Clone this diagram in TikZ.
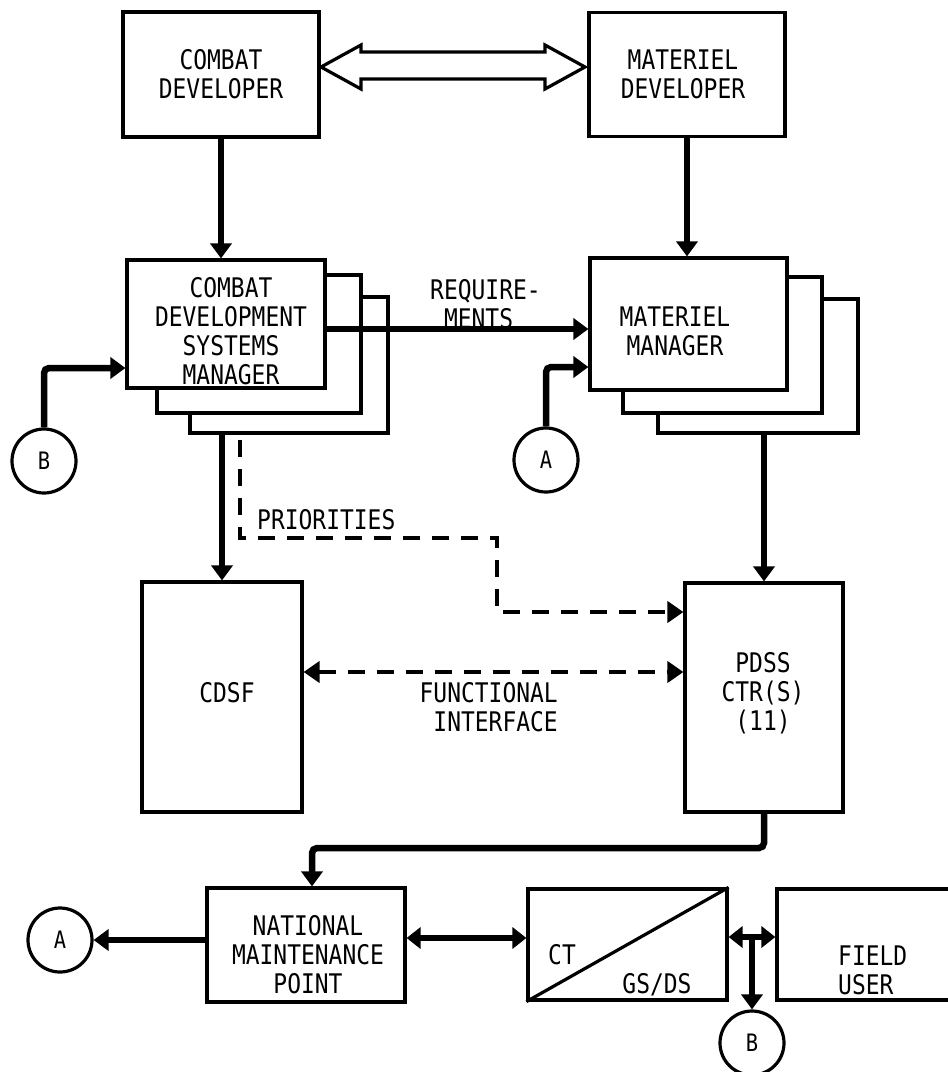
\documentclass[tikz,border=0pt]{standalone}
\usepackage{fontspec}
\setmainfont{DejaVu Sans Mono}[FakeStretch=0.85]
\usetikzlibrary{arrows.meta,calc}
\begin{document}
\begin{tikzpicture}[x=1pt,y=-1pt,
  box/.style={draw,line width=3.2pt,fill=white,inner sep=0pt},
  circ/.style={draw,circle,line width=3.2pt,minimum size=64pt,inner sep=0pt,font=\fontsize{24}{26}\selectfont},
  txt/.style={inner sep=0pt,align=center,font=\fontsize{27}{29}\selectfont},
  tip/.style={Triangle[length=15pt,width=21pt]},
  flow/.style={line width=6.5pt,-{Triangle[length=15pt,width=21pt]}},
  flowtwo/.style={line width=6.5pt,{Triangle[length=14pt,width=21pt]}-{Triangle[length=14pt,width=21pt]}},
  dashline/.style={line width=4.5pt,dash pattern=on 17pt off 12pt},
  dflow/.style={dashline,-{Triangle[length=16pt,width=21pt]}},
  dflowtwo/.style={dashline,{Triangle[length=16pt,width=21pt]}-{Triangle[length=16pt,width=21pt]}},
  hollow/.style={draw,line width=3.2pt,line join=miter}
]
\useasboundingbox (0,0) rectangle (948,1072);

% top row
\node[box,minimum width=196pt,minimum height=125pt] (cd) at (221,74.5) {};
\node[txt] (cdT) at (221,74.5) {COMBAT\\DEVELOPER};
\node[box,minimum width=196pt,minimum height=124pt] (md) at (687,74.5) {};
\node[txt] (mdT) at (683,74) {MATERIEL\\DEVELOPER};

% hollow double arrow
\draw[hollow] (321,67) -- (361,45) -- (361,52) -- (545,52) -- (545,45) -- (585,67)
  -- (545,89) -- (545,79) -- (361,79) -- (361,89) -- cycle;

% combat development systems manager (stack)
\node[box,minimum width=198pt,minimum height=136pt] (cdsm2) at (289,365) {};
\node[box,minimum width=204pt,minimum height=138pt] (cdsm1) at (259,344) {};
\node[box,minimum width=198pt,minimum height=128pt] (cdsm) at (226,324) {};
\node[txt] (cdsmT) at (231,331) {COMBAT\\DEVELOPMENT\\SYSTEMS\\MANAGER};

% materiel manager (stack)
\node[box,minimum width=200pt,minimum height=134pt] (mm2) at (758,366) {};
\node[box,minimum width=199pt,minimum height=136pt] (mm1) at (722.5,345) {};
\node[box,minimum width=197pt,minimum height=132pt] (mm) at (688.5,324) {};
\node[txt] (mmT) at (675,331) {MATERIEL\\MANAGER};

% middle row
\node[box,minimum width=160pt,minimum height=230pt] (cdsf) at (222,697) {};
\node[txt] (cdsfT) at (227,693) {CDSF};
\node[box,minimum width=158pt,minimum height=229pt] (pdss) at (764,697.5) {};
\node[txt] (pdssT) at (763,693) {PDSS\\CTR(S)\\(11)};

% bottom row
\node[box,minimum width=198pt,minimum height=114pt] (nmp) at (306,945) {};
\node[txt] (nmpT) at (308,955) {NATIONAL\\MAINTENANCE\\POINT};
\node[box,minimum width=199pt,minimum height=111pt] (ct) at (627.5,944.5) {};
\draw[line width=3.2pt] (ct.south west) -- (ct.north east);
\node[txt] (ctT) at (562,955) {CT};
\node[txt] (gsT) at (657,985) {GS/DS};
\node[box,minimum width=210pt,minimum height=111pt] (fu) at (882,944.5) {};
\node[txt,align=left,anchor=west] (fuT) at (838,970) {FIELD\\USER};

% circles
\node[circ] (b1) at (44,461) {B};
\node[circ] (a1) at (546,460) {A};
\node[circ] (a2) at (60,940) {A};
\node[circ] (b2) at (752,1043) {B};

% labels
\node[txt,align=left,anchor=west] (req) at (430,304) {REQUIRE-\\\hphantom{R}MENTS};
\node[txt,anchor=west] (prio) at (257,520) {PRIORITIES};
\node[txt,align=right,anchor=east] (func) at (558,707) {FUNCTIONAL\\INTERFACE};

% connectors
\draw[flow] (cd.south) -- (cd.south |- cdsm.north);
\draw[flow] (md.south) -- (md.south |- mm.north);
\draw[flow] ([yshift=-5pt]cdsm.east) -- ([yshift=-5pt]cdsm.east -| mm.west);
\draw[flow,rounded corners=5pt] (b1.north) |- ([yshift=-44pt]cdsm.west);
\draw[flow,rounded corners=5pt] (a1.north) |- ([yshift=-43pt]mm.west);
\draw[flow] (cdsf.north |- cdsm2.south) -- (cdsf.north);
\draw[flow] (pdss.north |- mm2.south) -- (pdss.north);
\coordinate (p0) at (240,440);
\draw[dflow] (p0) -- (240,538) -- (497,538) -- (497,612) -- (pdss.west |- 0,612);
\draw[dflowtwo] (cdsf.east |- 0,672) -- (pdss.west |- 0,672);
\draw[flow,rounded corners=5pt] (pdss.south) -- (pdss.south |- 0,848) -| ([xshift=6pt]nmp.north);
\draw[flow] (nmp.west |- a2.east) -- (a2.east);
\draw[flowtwo] (nmp.east |- 0,938) -- (ct.west |- 0,938);
\draw[flowtwo] (ct.east |- 0,937) -- (fu.west |- 0,937);
\draw[flow] (b2.north |- 0,937) -- (b2.north);
\end{tikzpicture}
\end{document}
